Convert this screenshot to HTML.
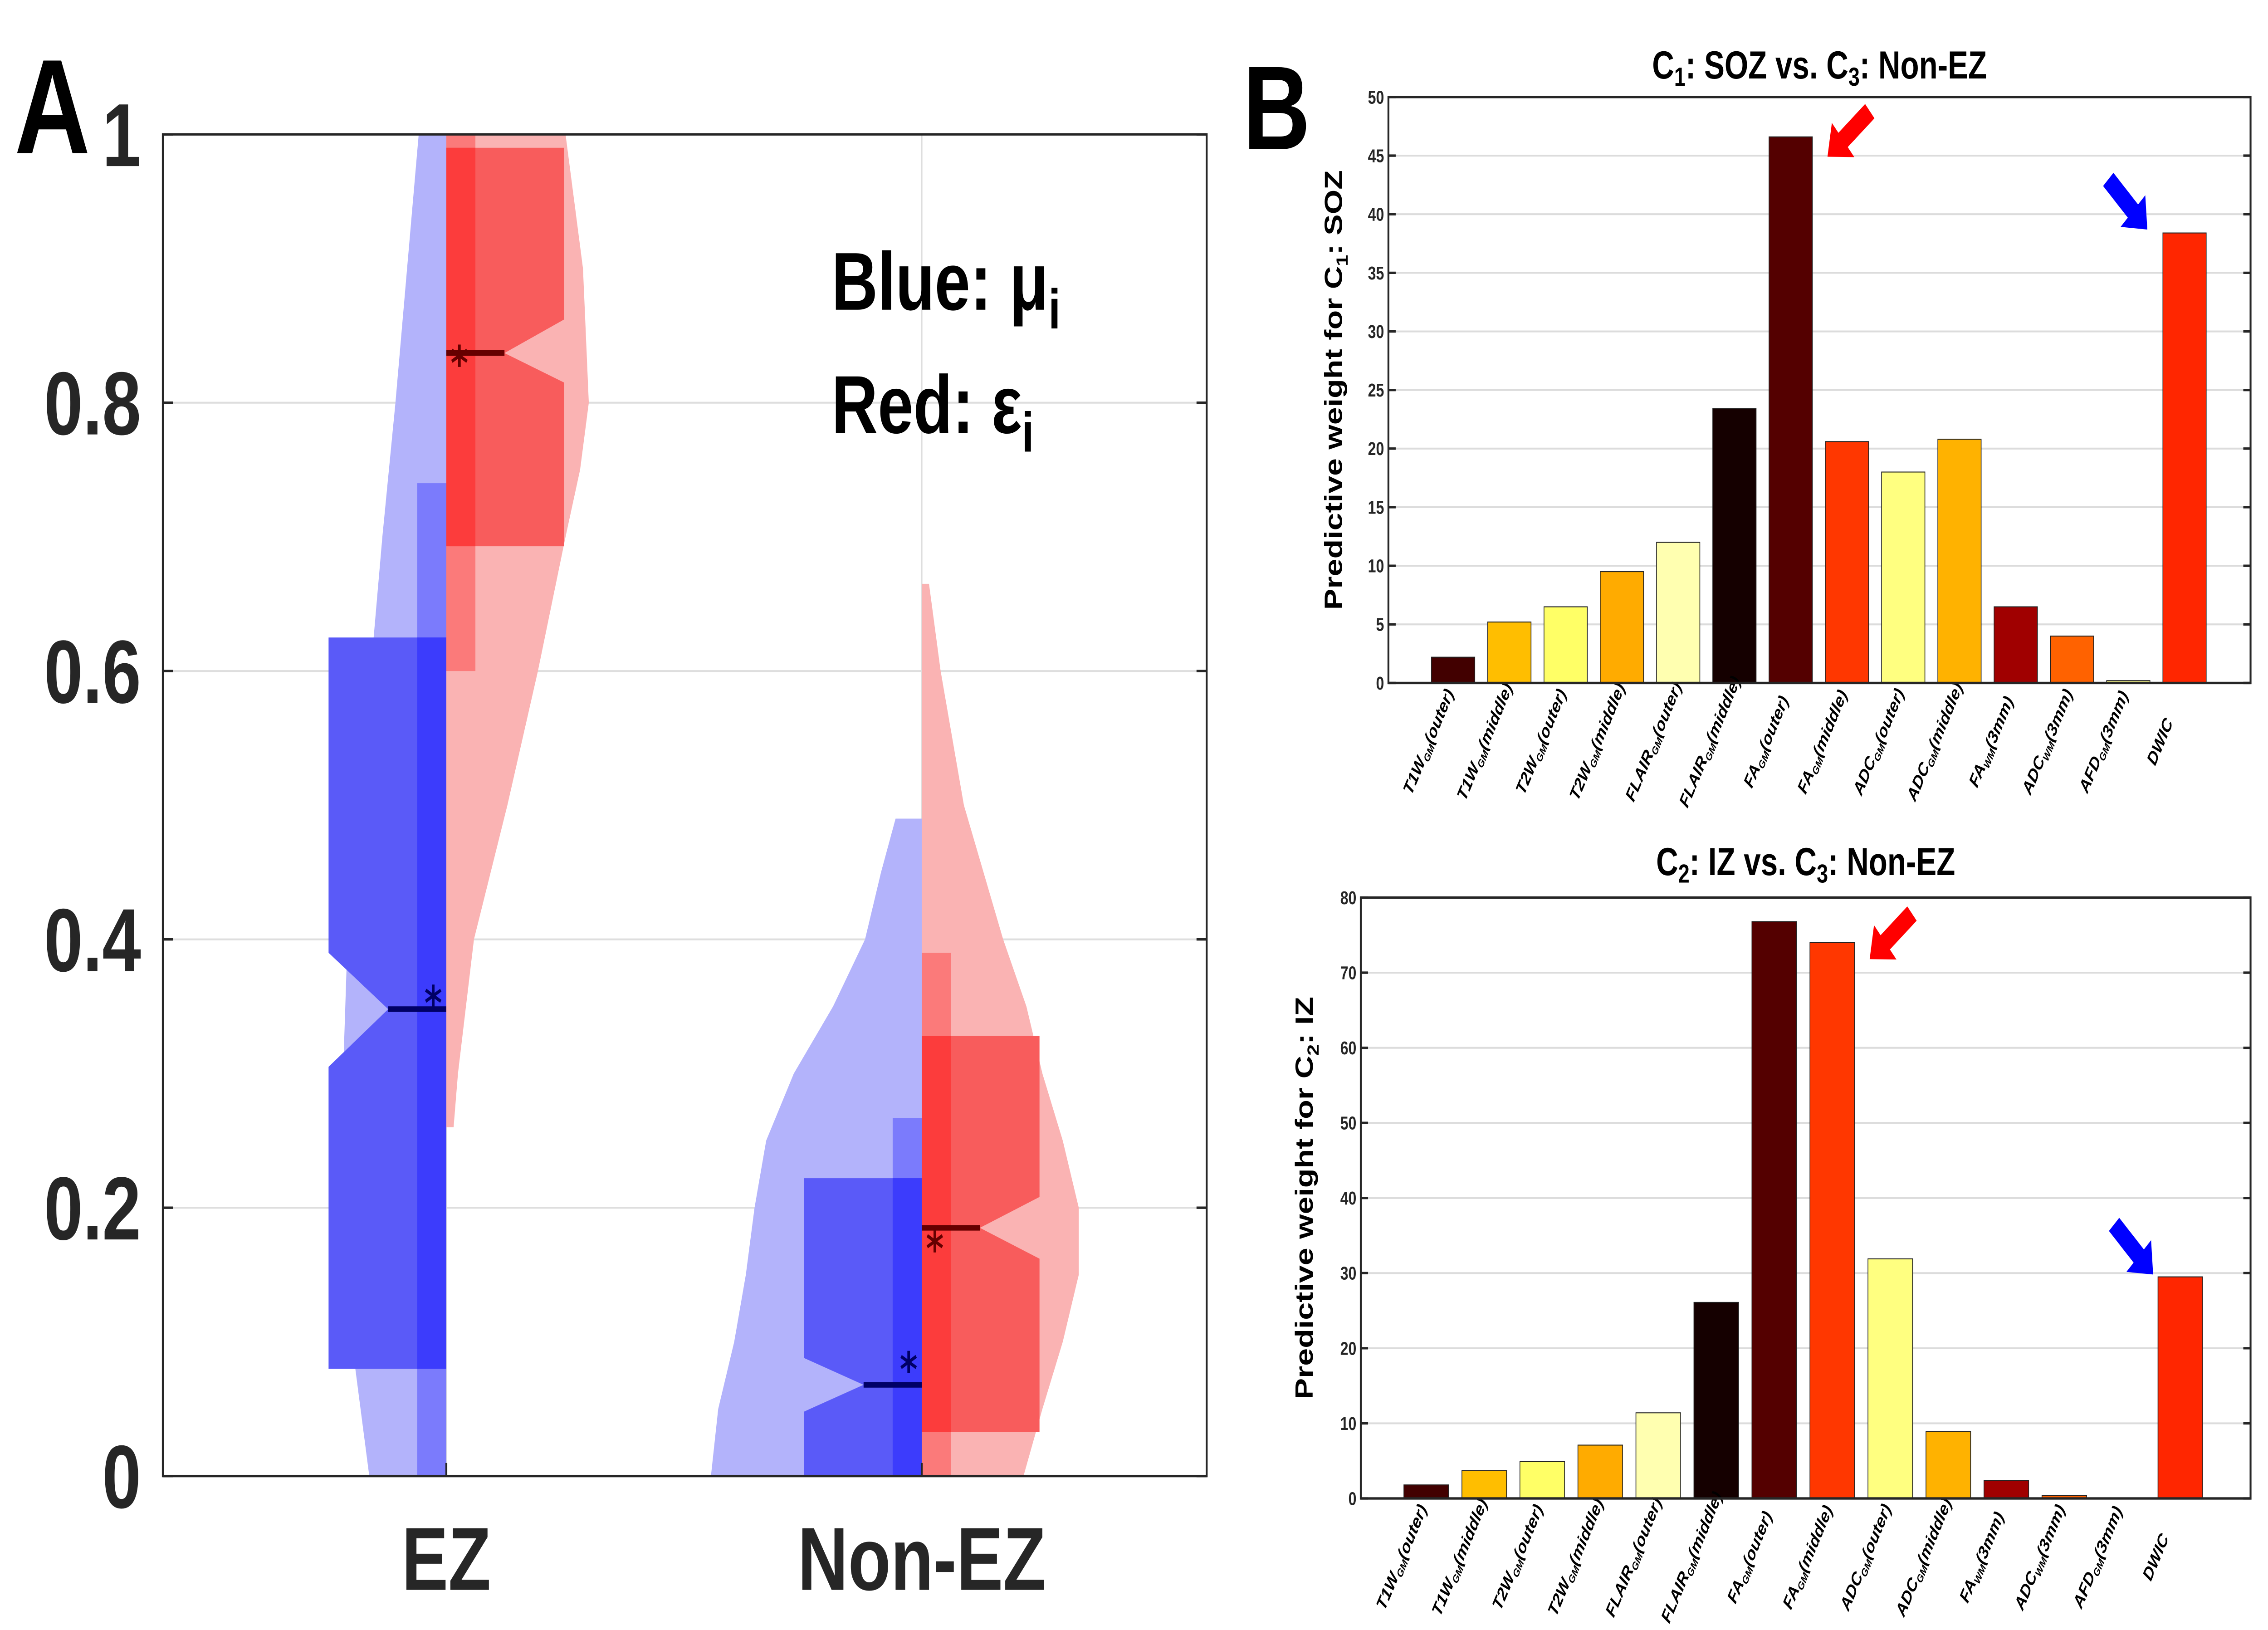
<!DOCTYPE html>
<html><head><meta charset="utf-8">
<style>
html,body{margin:0;padding:0;background:#fff;overflow:hidden;}
svg{display:block;}
text{font-family:"Liberation Sans",sans-serif;}
.cond{font-family:"Liberation Sans Narrow","Liberation Sans",sans-serif;}
</style></head><body>
<svg id="fig" width="6417" height="3593" viewBox="0 0 1560 873.5" preserveAspectRatio="none" xmlns="http://www.w3.org/2000/svg">
<defs><clipPath id="clipA"><rect x="112" y="72" width="718" height="719"/></clipPath></defs>
<g id="panelA"></g>
<g id="panelB1"></g>
<g id="panelB2"></g>
</svg>
<script>
// fit svg to the actual CSS viewport
(function(){
  const W = window.innerWidth || 6417;
  const H = window.innerHeight || 3593;
  const s = document.getElementById('fig');
  s.setAttribute('width', W);
  s.setAttribute('height', H);
  s.style.width = W + 'px';
  s.style.height = H + 'px';
  document.body.style.width = W + 'px';
  document.body.style.height = H + 'px';
})();
</script>
<script>
// ---------- Panel A data ----------
const groupsA = ["EZ", "Non-EZ"];
const ticksA = [0, 0.2, 0.4, 0.6, 0.8, 1];
const tickLabelsA = ["0", "0.2", "0.4", "0.6", "0.8", "1"];
// violin density profiles: [value, half-width]
const blueViolinEZ = [[0,53],[0.1,65],[0.2,71],[0.3,71],[0.4,68],[0.5,60],[0.6,52],[0.7,44],[0.8,35],[0.9,27],[1.0,19],[1.05,15]];
const redViolinEZ = [[0.26,5],[0.3,8],[0.4,19],[0.5,42],[0.6,63],[0.7,82],[0.75,92],[0.8,98],[0.9,94],[1.0,82],[1.05,76]];
const blueViolinNon = [[0,145],[0.05,140],[0.1,129],[0.15,121],[0.2,115],[0.25,107],[0.3,88],[0.35,61],[0.4,39],[0.45,28],[0.49,18]];
const redViolinNon = [[0,70],[0.05,83],[0.1,97],[0.15,108],[0.2,108],[0.25,97],[0.3,83],[0.35,72],[0.4,56],[0.5,29],[0.6,13],[0.665,5]];
// box stats: [whiskerLow, whiskerHigh, q1, q3, notchLow, notchHigh, median, mean]
const blueBoxEZ = [0, 0.74, 0.08, 0.625, 0.305, 0.39, 0.348, 0.358];
const redBoxEZ = [0.6, 1.0, 0.693, 0.99, 0.815, 0.862, 0.837, 0.835];
const blueBoxNon = [0, 0.267, 0, 0.222, 0.048, 0.088, 0.068, 0.085];
const redBoxNon = [0, 0.39, 0.033, 0.328, 0.162, 0.208, 0.185, 0.175];

// ---------- Panel B data ----------
const catBase = ["T1W","T1W","T2W","T2W","FLAIR","FLAIR","FA","FA","ADC","ADC","FA","ADC","AFD","DWIC"];
const catSub = ["GM","GM","GM","GM","GM","GM","GM","GM","GM","GM","WM","WM","GM",""];
const catSuffix = ["(outer)","(middle)","(outer)","(middle)","(outer)","(middle)","(outer)","(middle)","(outer)","(middle)","(3mm)","(3mm)","(3mm)",""];
const barColors = ["#420000","#ffbe00","#ffff66","#ffab00","#ffffb0","#150000","#540000","#ff3700","#ffff80","#ffb200","#a00000","#ff6200","#ffff90","#ff2600"];
const valuesSOZ = [2.2, 5.2, 6.5, 9.5, 12.0, 23.4, 46.6, 20.6, 18.0, 20.8, 6.5, 4.0, 0.2, 38.4];
const valuesIZ = [1.8, 3.7, 4.9, 7.1, 11.4, 26.1, 76.8, 74.0, 31.9, 8.9, 2.4, 0.4, 0.0, 29.5];
const ticksSOZ = [0,5,10,15,20,25,30,35,40,45,50];
const ticksIZ = [0,10,20,30,40,50,60,70,80];

const NS = "http://www.w3.org/2000/svg";
function mk(tag, attrs, parent){const e=document.createElementNS(NS,tag);for(const k in attrs)e.setAttribute(k,attrs[k]);if(parent)parent.appendChild(e);return e;}

(function(){
  const g = document.getElementById('panelA');
  const L=112,R=830,T=72,B=791;
  const yA = v => B - (B-T)*v;
  const xA = i => [307,634][i];
  ticksA.forEach((t,i)=>{
    const gl=mk('line',{x1:L,x2:R,y1:yA(t),y2:yA(t),stroke:'#dedede','stroke-width':1},g);
    
    
  });
  groupsA.forEach((n,i)=>{
    const gl=mk('line',{x1:xA(i),x2:xA(i),y1:T,y2:B,stroke:'#dedede','stroke-width':1},g);
    
    
  });
  const cg = mk('g',{'clip-path':'url(#clipA)'},g);
  function violin(prof, cx, side, fill, name){
    let d='M'+cx+','+yA(prof[0][0]);
    prof.forEach(p=>{d+=' L'+(cx+side*p[1])+','+yA(p[0]);});
    d+=' L'+cx+','+yA(prof[prof.length-1][0])+' Z';
    const p=mk('path',{d:d,fill:fill},cg);
    
    
  }
  function box(s, cx, side, cols, name){
    const ww=20, bw=81, nw=40;
    const wx = side<0? cx-ww : cx;
    const w=mk('rect',{x:wx,y:yA(s[1]),width:ww,height:yA(s[0])-yA(s[1]),fill:cols[0]},cg);
    
    
    const o=cx+side*bw, n=cx+side*nw;
    const pts=[[cx,yA(s[2])],[o,yA(s[2])],[o,yA(s[4])],[n,yA(s[6])],[o,yA(s[5])],[o,yA(s[3])],[cx,yA(s[3])]];
    const b=mk('polygon',{points:pts.map(p=>p.join(',')).join(' '),fill:cols[1]},cg);
    
    
    const lo=Math.max(s[0],s[2]), hi=Math.min(s[1],s[3]);
    const ov=mk('rect',{x:wx,y:yA(hi),width:ww,height:yA(lo)-yA(hi),fill:cols[2]},cg);
    
    
    const m=mk('line',{x1:cx,x2:n,y1:yA(s[6]),y2:yA(s[6]),stroke:cols[3],'stroke-width':3},cg);
    
    
    const mx=cx+side*9, my=yA(s[7]), r=6;
    const st=mk('g',{stroke:cols[3],'stroke-width':1.8},cg);
    
    
    [0,60,120].forEach(a=>{const rad=a*Math.PI/180;
      mk('line',{x1:mx-r*Math.sin(rad),y1:my-r*Math.cos(rad),x2:mx+r*Math.sin(rad),y2:my+r*Math.cos(rad)},st);});
  }
  const blue=['#7b7bfc','#5a5af8','#3c3cfc','#000066'];
  const red=['#fb7a7a','#f85c5c','#fc3c3c','#660000'];
  violin(blueViolinEZ, xA(0), -1, '#b3b3fb','violin-blue-ez');
  violin(redViolinEZ, xA(0), 1, '#fab3b3','violin-red-ez');
  violin(blueViolinNon, xA(1), -1, '#b3b3fb','violin-blue-non-ez');
  violin(redViolinNon, xA(1), 1, '#fab3b3','violin-red-non-ez');
  box(blueBoxEZ, xA(0), -1, blue, 'blue-ez');
  box(redBoxEZ, xA(0), 1, red, 'red-ez');
  box(blueBoxNon, xA(1), -1, blue, 'blue-non-ez');
  box(redBoxNon, xA(1), 1, red, 'red-non-ez');
  const fr=mk('rect',{x:L,y:T,width:R-L,height:B-T,fill:'none',stroke:'#262626','stroke-width':1.3},g);
  
  
  ticksA.forEach((t,i)=>{
    mk('line',{x1:L,x2:L+7,y1:yA(t),y2:yA(t),stroke:'#262626','stroke-width':1.3},g);
    mk('line',{x1:R-7,x2:R,y1:yA(t),y2:yA(t),stroke:'#262626','stroke-width':1.3},g);
    const tl=mk('text',{x:97,y:yA(t)+17,'text-anchor':'end','font-size':48,'font-weight':'bold',fill:'#262626'},g);
    tl.textContent=tickLabelsA[i];
    
    
  });
  groupsA.forEach((n,i)=>{
    mk('line',{x1:xA(i),x2:xA(i),y1:B,y2:B-7,stroke:'#262626','stroke-width':1.3},g);
    const xl=mk('text',{x:xA(i),y:852,'text-anchor':'middle','font-size':48,'font-weight':'bold',fill:'#262626'},g);
    xl.textContent=n;
    
    
  });
})();
</script>
<script>
(function(){
  const g=document.getElementById('panelA');
  g.insertAdjacentHTML('beforeend',
   '<text x="10" y="82" font-size="72" font-weight="bold" fill="#000">A</text>'+
   '<text x="572" y="166" font-size="44" font-weight="bold" fill="#000">Blue: μ<tspan font-size="30" dy="10">i</tspan></text>'+
   '<text x="572" y="232" font-size="44" font-weight="bold" fill="#000">Red: ε<tspan font-size="30" dy="10">i</tspan></text>');
})();

function barChart(gid, opts){
  const g=document.getElementById(gid);
  const {L,R,T,B,max,ticks,values,x0,dx,title,titleY,ylabX,ylabSub,ylabTail}=opts;
  const y=v=>B-(B-T)*v/max;
  const x=i=>x0+dx*i;
  ticks.forEach(t=>{
    if(t>0&&t<max){
      const gl=mk('line',{x1:L,x2:R,y1:y(t),y2:y(t),stroke:'#dcdcdc','stroke-width':1},g);
      
      
    }
    mk('line',{x1:L,x2:L+5,y1:y(t),y2:y(t),stroke:'#262626','stroke-width':1.3},g);
    mk('line',{x1:R-5,x2:R,y1:y(t),y2:y(t),stroke:'#262626','stroke-width':1.3},g);
    const tl=mk('text',{x:L-3,y:y(t)+3.5,'text-anchor':'end','font-size':10,'font-weight':'bold',fill:'#262626','class':'cond'},g);
    tl.textContent=String(t);
    
    
  });
  const bw=dx*0.77;
  values.forEach((v,i)=>{
    const r=mk('rect',{x:x(i)-bw/2,y:y(v),width:bw,height:B-y(v),fill:barColors[i],stroke:'#222','stroke-width':0.5},g);
    
    
    const cx=x(i)-14, cy=B+33;
    const t=mk('text',{x:cx,y:cy,'text-anchor':'middle','font-size':10,'font-weight':'bold','font-style':'italic',fill:'#000',transform:'rotate(-62 '+cx+' '+cy+')'},g);
    
    
    t.appendChild(document.createTextNode(catBase[i]));
    if(catSub[i]){const s=mk('tspan',{'font-size':6,dy:2},t);s.textContent=catSub[i];}
    if(catSuffix[i]){const s=mk('tspan',{dy:catSub[i]?-2:0},t);s.textContent=catSuffix[i];}
  });
  const fr=mk('rect',{x:L,y:T,width:R-L,height:B-T,fill:'none',stroke:'#262626','stroke-width':1.3},g);
  
  
  const tt=mk('text',{x:(L+R)/2,y:titleY,'text-anchor':'middle','font-size':21,'font-weight':'bold',fill:'#000','class':'cond'},g);
  
  
  title.forEach(p=>{const s=mk('tspan',p[1]?{'font-size':14,dy:4}:{dy:p[2]||0},tt);s.textContent=p[0];});
  const cy=(T+B)/2;
  const yl=mk('text',{x:ylabX,y:cy,'text-anchor':'middle','font-size':17,'font-weight':'bold',fill:'#000',transform:'rotate(-90 '+ylabX+' '+cy+')'},g);
  
  
  yl.appendChild(document.createTextNode('Predictive weight for C'));
  const s1=mk('tspan',{'font-size':11,dy:4},yl);s1.textContent=ylabSub;
  const s2=mk('tspan',{dy:-4},yl);s2.textContent=ylabTail;
}
function arrow(g,tipX,tipY,ang,color,name){
  const p=mk('polygon',{points:'0,0 -14,-12 -14,-5 -38,-5 -38,5 -14,5 -14,12',fill:color,transform:'translate('+tipX+' '+tipY+') rotate('+ang+')'},g);
  
  
}
barChart('panelB1',{L:955,R:1548,T:52,B:366,max:50,ticks:ticksSOZ,values:valuesSOZ,x0:999.5,dx:38.7,
  title:[['C'],['1',1],[': SOZ vs. C',0,-4],['3',1],[': Non-EZ',0,-4]],titleY:42,ylabX:923,ylabSub:'1',ylabTail:': SOZ'});
barChart('panelB2',{L:936,R:1548,T:481,B:803,max:80,ticks:ticksIZ,values:valuesIZ,x0:981,dx:39.9,
  title:[['C'],['2',1],[': IZ  vs. C',0,-4],['3',1],[': Non-EZ',0,-4]],titleY:469,ylabX:903,ylabSub:'2',ylabTail:': IZ'});
(function(){
  const g1=document.getElementById('panelB1'), g2=document.getElementById('panelB2');
  g1.insertAdjacentHTML('beforeend','<text x="855" y="80" font-size="64" font-weight="bold" fill="#000">B</text>');
  arrow(g1,1257,84,140,'#ff0000','red-arrow-top');
  arrow(g1,1477,123,45,'#0000ff','blue-arrow-top');
  arrow(g2,1286,514,140,'#ff0000','red-arrow-bottom');
  arrow(g2,1481,683,45,'#0000ff','blue-arrow-bottom');
})();
</script>
</body></html>
